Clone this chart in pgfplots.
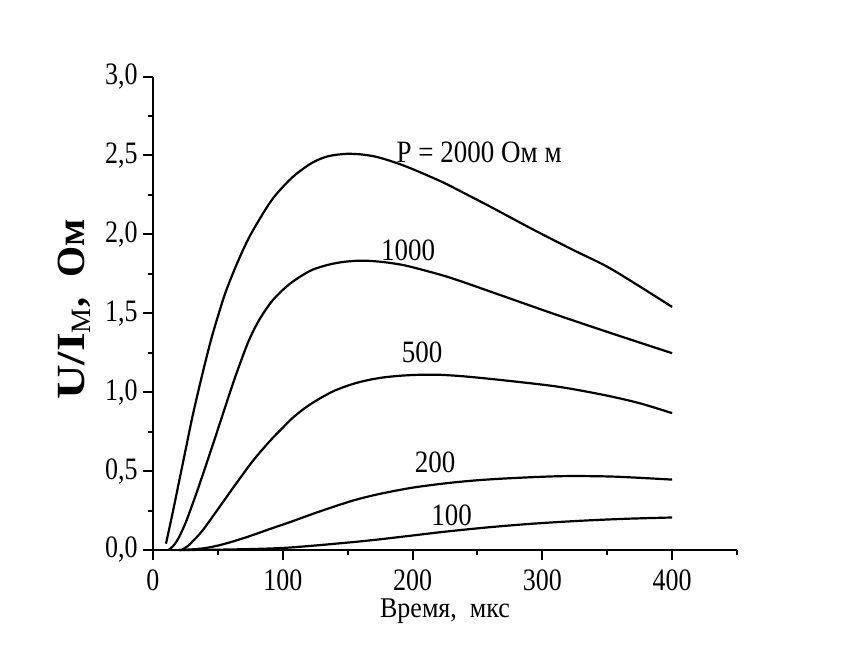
\documentclass[border=0pt]{standalone}
\usepackage{fontspec}
\setmainfont{Liberation Serif}
\usepackage{pgfplots}
\pgfplotsset{compat=1.18}
\begin{document}
\begin{tikzpicture}
\useasboundingbox (-76.5pt,-54.5pt) rectangle (350.5pt,275pt);
\begin{axis}[
  at={(0,0)}, anchor=south west,
  scale only axis, width=292pt, height=236.75pt,
  xmin=0, xmax=450, ymin=0, ymax=3,
  axis x line=bottom, axis y line=left,
  axis line style={-, line width=1.2pt},
  xtick={0,100,200,300,400}, minor xtick={50,150,250,350,450},
  ytick={0,0.5,1,1.5,2,2.5,3}, minor ytick={0.25,0.75,1.25,1.75,2.25,2.75},
  tick align=outside, major tick length=5pt, minor tick length=2.7pt,
  every tick/.style={line width=1pt, black},
  /pgf/number format/assume math mode=true,
  tick label style={font=\fontsize{13}{15}\selectfont},
  xticklabel={\scalebox{1}[1.2]{\pgfmathprintnumber[fixed,precision=0]{\tick}}},
  yticklabel={\scalebox{1}[1.2]{\pgfmathprintnumber[fixed,fixed zerofill,precision=1,use comma]{\tick}}},
  xticklabel style={anchor=base, inner sep=0pt, yshift=-15pt},
  yticklabel style={anchor=east, inner sep=0pt, xshift=-2.5pt},
  xlabel={\scalebox{1}[1.1]{Время,\ \ мкс}},
  every axis x label/.style={at={(axis description cs:0.5,0)}, anchor=base, inner sep=0pt, yshift=-33.5pt, font=\fontsize{13}{15}\selectfont},
  ylabel={\scalebox{1.2}[1]{U/I}\textsubscript{\mdseries М},\ \ Ом},
  every axis y label/.style={at={(axis description cs:-0.118,0.508)}, anchor=base, rotate=90, font=\fontsize{20}{24}\selectfont\bfseries},
  clip=false,
]
\addplot[black, line width=1.1pt, smooth] coordinates {
(10,0.04) (15,0.23) (20,0.43) (25,0.63) (30,0.83) (35,1.01) (40,1.18) (45,1.34) (50,1.48) (56,1.635) (65,1.82) (75,1.995) (90,2.20) (100,2.30) (110,2.38) (123,2.455) (135,2.495) (149,2.51) (162,2.505) (175,2.485) (195,2.43) (222,2.335) (240,2.26) (260,2.175) (293,2.03) (324,1.90) (350,1.795) (375,1.67) (400,1.54)
};
\addplot[black, line width=1.1pt, smooth] coordinates {
(12,0.0) (16,0.03) (20,0.08) (25,0.17) (30,0.28) (36,0.42) (45,0.64) (53,0.84) (61,1.04) (67,1.18) (74,1.33) (82,1.46) (92,1.58) (103,1.67) (113,1.73) (123,1.776) (134,1.805) (144,1.822) (154,1.831) (164,1.833) (178,1.824) (193,1.805) (210,1.77) (231,1.72) (267,1.617) (311,1.49) (357,1.363) (400,1.247)
};
\addplot[black, line width=1.1pt, smooth] coordinates {
(22,0.0) (26,0.02) (30,0.05) (38.5,0.127) (51,0.27) (64,0.42) (77,0.565) (90,0.69) (100,0.775) (108,0.84) (118,0.905) (128.5,0.96) (140,1.01) (154,1.052) (166,1.077) (178,1.094) (192,1.105) (205,1.11) (221,1.11) (240,1.10) (267,1.078) (311,1.036) (347,0.983) (375,0.93) (400,0.867)
};
\addplot[black, line width=1.1pt, smooth] coordinates {
(20,0.0) (30,0.004) (40,0.012) (51,0.03) (64,0.06) (77,0.095) (90,0.133) (105,0.175) (128,0.243) (154,0.313) (175,0.356) (200,0.395) (226,0.423) (250,0.442) (278,0.456) (316,0.468) (355,0.465) (400,0.446)
};
\addplot[black, line width=1.1pt, smooth] coordinates {
(20,0.0) (50,0.002) (80,0.007) (100,0.013) (120,0.025) (154,0.05) (175,0.068) (198,0.09) (226,0.117) (260,0.145) (293,0.167) (329,0.185) (365,0.198) (400,0.206)
};
\node[font=\fontsize{13.5}{16}\selectfont] at (axis cs:251.3,2.52) {\scalebox{1}[1.15]{P = 2000 Ом м}};
\node[font=\fontsize{13.5}{16}\selectfont] at (axis cs:196.6,1.90) {\scalebox{1}[1.15]{1000}};
\node[font=\fontsize{13.5}{16}\selectfont] at (axis cs:207.4,1.25) {\scalebox{1}[1.15]{500}};
\node[font=\fontsize{13.5}{16}\selectfont] at (axis cs:217.4,0.558) {\scalebox{1}[1.15]{200}};
\node[font=\fontsize{13.5}{16}\selectfont] at (axis cs:230.1,0.222) {\scalebox{1}[1.15]{100}};
\end{axis}
\end{tikzpicture}
\end{document}
